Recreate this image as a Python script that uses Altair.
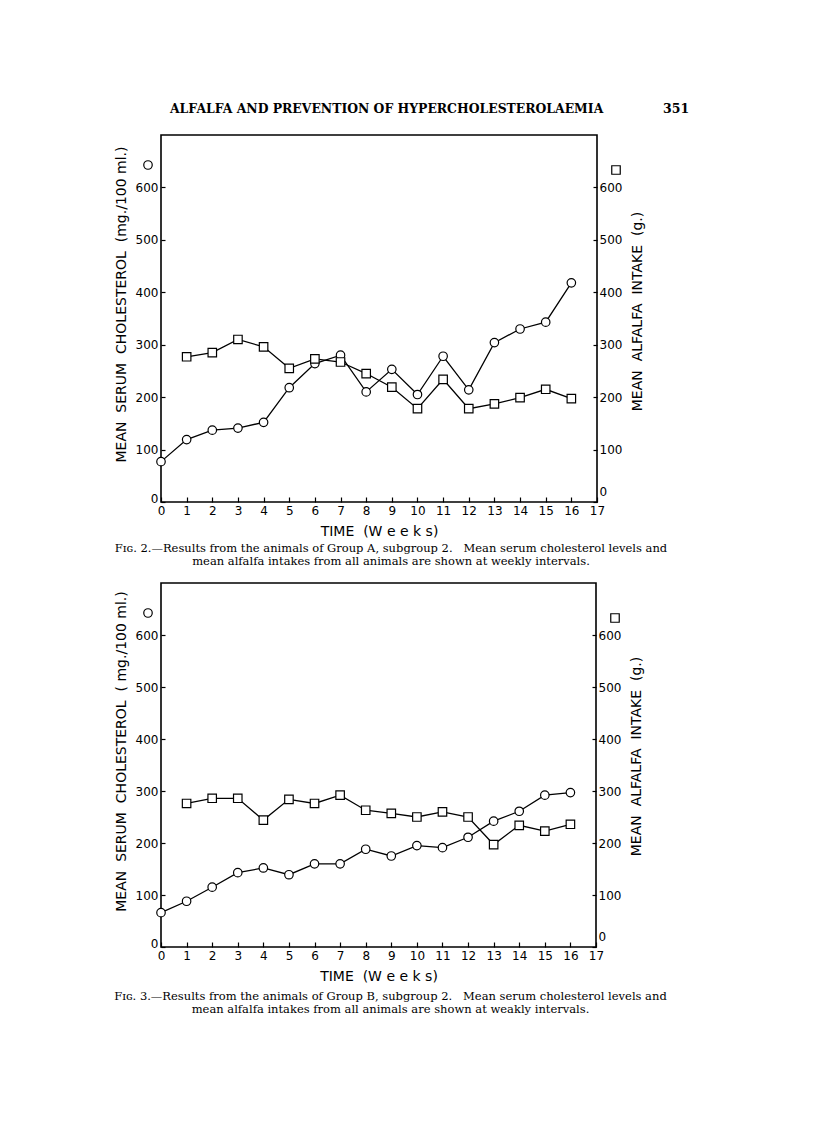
import altair as alt
import pandas as pd

# ---------------- data ----------------
weeks = list(range(0, 17))          # cholesterol measured weeks 0..16
weeks_alf = list(range(1, 17))      # alfalfa intake weeks 1..16

chol_a = [77, 119, 137, 141, 152, 218, 264, 280, 210, 253, 205, 278, 214, 304, 330, 343, 418]
alf_a = [277, 285, 310, 296, 255, 273, 267, 245, 219, 178, 234, 178, 187, 199, 215, 197]

chol_b = [66, 88, 115, 143, 152, 139, 160, 160, 188, 175, 195, 191, 211, 242, 261, 292, 297]
alf_b = [276, 286, 286, 244, 284, 276, 292, 263, 257, 250, 260, 250, 197, 234, 223, 236]

x_ticks = list(range(0, 18))
y_ticks = [0, 100, 200, 300, 400, 500, 600]

header_text = "ALFALFA AND PREVENTION OF HYPERCHOLESTEROLAEMIA"
page_no = "351"
x_title = "TIME  (W e e k s)"
left_title_a = "MEAN  SERUM  CHOLESTEROL  (mg./100 ml.)"
left_title_b = "MEAN  SERUM  CHOLESTEROL  ( mg./100 ml.)"
right_title = "MEAN  ALFALFA  INTAKE  (g.)"
caption_a = ["Fɪɢ. 2.—Results from the animals of Group A, subgroup 2.   Mean serum cholesterol levels and",
             "mean alfalfa intakes from all animals are shown at weekly intervals."]
caption_b = ["Fɪɢ. 3.—Results from the animals of Group B, subgroup 2.   Mean serum cholesterol levels and",
             "mean alfalfa intakes from all animals are shown at weakly intervals."]

SANS = "DejaVu Sans"
SERIF = "DejaVu Serif"


def nb(s):
    return s.replace("  ", "\u00a0\u00a0")


def panel(chol, alf, w, h, left_title, caption, ltitle_y, rtitle_y, cap_offset, header=False):
    dc = pd.DataFrame({"week": weeks, "value": chol})
    da = pd.DataFrame({"week": weeks_alf, "value": alf})
    one = pd.DataFrame({"k": [0]})

    xenc = alt.X(
        "week:Q",
        scale=alt.Scale(domain=[0, 17], nice=False, zero=False),
        axis=alt.Axis(
            values=x_ticks, format="d", title=nb(x_title), offset=-5, tickSize=5,
            domain=False, grid=False, labelPadding=3, labelFont=SANS, labelFontSize=12,
            labelColor="black", tickColor="black", tickWidth=1.2, labelFlush=False,
            titleFont=SANS, titleFontSize=14, titleFontWeight="normal", titleColor="black",
            titleY=34, titleBaseline="middle",
        ),
    )
    yscale = alt.Scale(domain=[0, 700], nice=False, zero=True)
    y_left = alt.Y(
        "value:Q", scale=yscale,
        axis=alt.Axis(
            orient="left", values=y_ticks, format="d", offset=-4, tickSize=4, domain=False,
            grid=False, labelPadding=3, labelFont=SANS, labelFontSize=12, labelColor="black",
            labelOffset={"condition": {"test": "datum.value == 0", "value": -4}, "value": 0},
            tickColor="black", tickWidth=1.2, title=nb(left_title), titleFont=SANS,
            titleFontSize=14, titleFontWeight="normal", titleColor="black", titleAngle=270,
            titleX=-44, titleY=ltitle_y, titleBaseline="middle", titleAlign="center",
        ),
    )
    y_right = alt.Y(
        "value:Q", scale=yscale,
        axis=alt.Axis(
            orient="right", values=y_ticks, format="d", offset=-4, tickSize=4, domain=False,
            grid=False, labelPadding=2, labelFont=SANS, labelFontSize=12, labelColor="black",
            labelOffset={"condition": {"test": "datum.value == 0", "value": -11}, "value": 0},
            tickColor="black", tickWidth=1.2, title=nb(right_title), titleFont=SANS,
            titleFontSize=14, titleFontWeight="normal", titleColor="black", titleAngle=270,
            titleX=44, titleY=rtitle_y, titleBaseline="middle", titleAlign="center",
        ),
    )

    pt_style = dict(filled=True, fill="white", stroke="black", strokeWidth=1.2, size=72, opacity=1)

    chol_line = alt.Chart(dc).mark_line(color="black", strokeWidth=1.3).encode(x=xenc, y=y_left)
    chol_pts = alt.Chart(dc).mark_point(shape="circle", **pt_style).encode(x=xenc, y=y_left)
    chol_key = alt.Chart(one).mark_point(shape="circle", **pt_style).encode(
        x=alt.value(-13), y=alt.value(30))

    alf_line = alt.Chart(da).mark_line(color="black", strokeWidth=1.3).encode(x=xenc, y=y_right)
    alf_pts = alt.Chart(da).mark_point(shape="square", **pt_style).encode(x=xenc, y=y_right)
    alf_key = alt.Chart(one).mark_point(shape="square", **pt_style).encode(
        x=alt.value(w + 19), y=alt.value(35))

    left = alt.layer(chol_line, chol_pts, chol_key)
    right = alt.layer(alf_line, alf_pts, alf_key)
    layers = [left, right]
    if header:
        head = alt.Chart(one).mark_text(
            text=header_text, font=SERIF, fontSize=12.4, fontWeight="bold", align="left",
            baseline="alphabetic", color="black").encode(x=alt.value(9), y=alt.value(-22))
        pno = alt.Chart(one).mark_text(
            text=page_no, font=SERIF, fontSize=12.5, fontWeight="bold", align="left",
            baseline="alphabetic", color="black").encode(x=alt.value(502), y=alt.value(-22))
        layers += [head, pno]

    return alt.layer(*layers).resolve_scale(y="independent").properties(
        width=w, height=h,
        title=alt.TitleParams(
            text=[nb(t) for t in caption], orient="bottom", anchor="middle", font=SERIF,
            fontSize=11.5, fontWeight="normal", color="black", lineHeight=13,
            offset=cap_offset, dx=12,
        ),
    )


fig2 = panel(chol_a, alf_a, 436, 367, left_title_a, caption_a, 169, 176, 5, header=True)
fig3 = panel(chol_b, alf_b, 435, 364, left_title_b, caption_b, 168, 173, 8)

chart = alt.vconcat(fig2, fig3, spacing=81, bounds="flush").properties(
    padding={"left": 105, "top": 94, "right": 10, "bottom": 10},
    background="white",
).configure_view(stroke="black", strokeWidth=1.6).configure_point(opacity=1)

chart.save("out.html", embed_options={"renderer": "svg", "actions": False})
